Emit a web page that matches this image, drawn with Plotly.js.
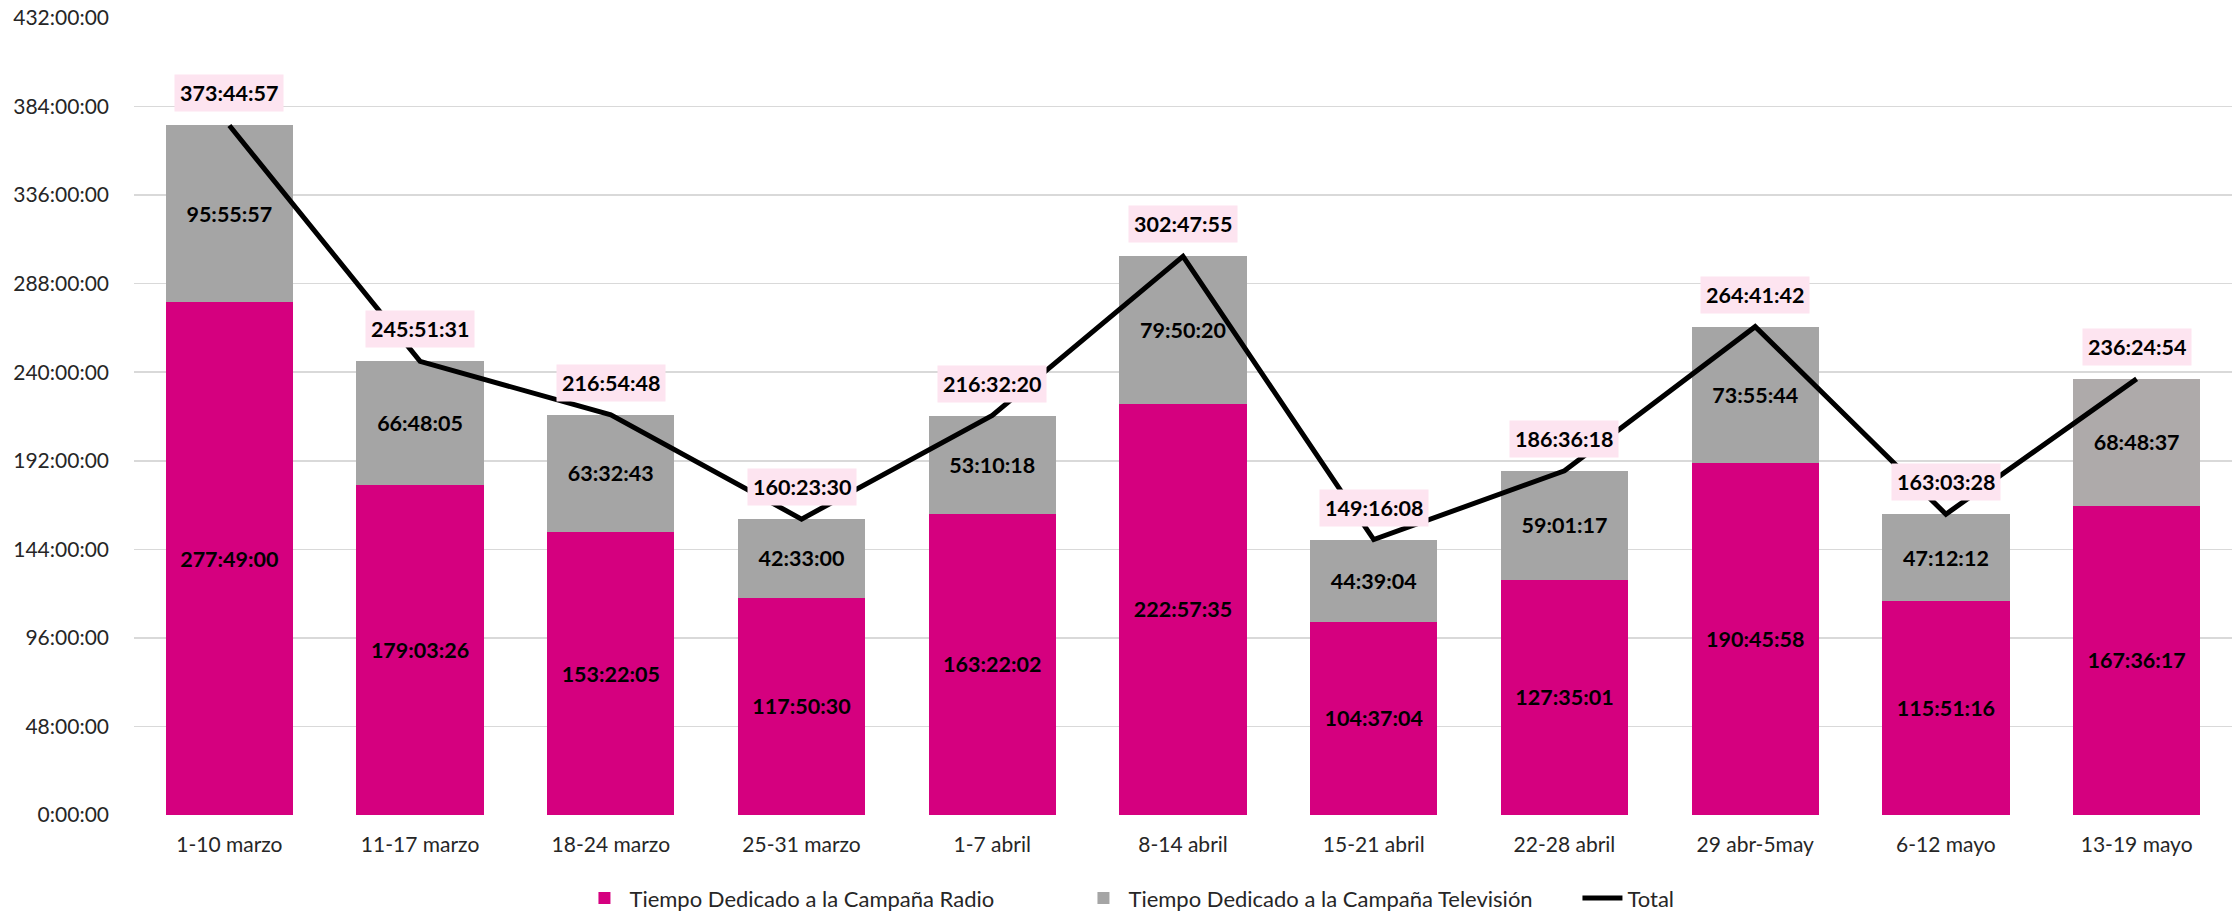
<!DOCTYPE html>
<html>
<head>
<meta charset="utf-8">
<script src="https://cdn.plot.ly/plotly-3.0.1.min.js"></script>
<style>html,body{margin:0;padding:0;background:#fff;}#chart{width:2239px;height:911px;}</style>
</head>
<body>
<div id="chart"></div>
<script>
const categories = ["1-10 marzo","11-17 marzo","18-24 marzo","25-31 marzo","1-7 abril","8-14 abril","15-21 abril","22-28 abril","29 abr-5may","6-12 mayo","13-19 mayo"];
const radio = ["277:49:00","179:03:26","153:22:05","117:50:30","163:22:02","222:57:35","104:37:04","127:35:01","190:45:58","115:51:16","167:36:17"];
const television = ["95:55:57","66:48:05","63:32:43","42:33:00","53:10:18","79:50:20","44:39:04","59:01:17","73:55:44","47:12:12","68:48:37"];
const total = ["373:44:57","245:51:31","216:54:48","160:23:30","216:32:20","302:47:55","149:16:08","186:36:18","264:41:42","163:03:28","236:24:54"];
const yTickValues = [0,48,96,144,192,240,288,336,384,432];
const yTickLabels = ["0:00:00","48:00:00","96:00:00","144:00:00","192:00:00","240:00:00","288:00:00","336:00:00","384:00:00","432:00:00"];

function toHours(s){const p=s.split(":").map(Number);return p[0]+p[1]/60+p[2]/3600;}

const FONT = "Lato, 'Liberation Sans', sans-serif";
const tvColors = television.map((v,i)=> i===television.length-1 ? "#AEAAAA" : "#A5A5A5");

const traces = [
  {type:"bar", name:"Tiempo Dedicado a la Campaña Radio", x:categories, y:radio.map(toHours),
   text:radio.map(s=>"<b>"+s+"</b>"), textposition:"inside", insidetextanchor:"middle", textangle:0,
   textfont:{family:FONT,size:21.5,color:"#000"}, marker:{color:"#D5007F"}, hoverinfo:"skip"},
  {type:"bar", name:"Tiempo Dedicado a la Campaña Televisión", x:categories, y:television.map(toHours),
   text:television.map(s=>"<b>"+s+"</b>"), textposition:"inside", insidetextanchor:"middle", textangle:0,
   textfont:{family:FONT,size:21.5,color:"#000"}, marker:{color:tvColors}, hoverinfo:"skip"},
  {type:"scatter", mode:"lines", name:"Total", x:categories, y:total.map(toHours),
   line:{color:"#000",width:5}, hoverinfo:"skip"}
];

const annotations = categories.map((c,i)=>({
  x:c, y:toHours(total[i]), xref:"x", yref:"y", yshift:32, showarrow:false,
  text:"<b>"+total[i]+"</b>", font:{family:FONT,size:21.5,color:"#000"},
  bgcolor:"#FDE4F0", borderpad:5
}));

const layout = {
  width:2239, height:911,
  margin:{l:134,r:7,t:18,b:96},
  paper_bgcolor:"#fff", plot_bgcolor:"#fff",
  barmode:"stack", bargap:0.333,
  font:{family:FONT,size:21,color:"#404040"},
  xaxis:{type:"category", showgrid:false, zeroline:false, showline:false, ticks:"",
    tickfont:{family:FONT,size:21,color:"#262626"}, ticklabelstandoff:15},
  yaxis:{range:[0,432], tickvals:yTickValues, ticktext:yTickLabels, showgrid:true,
    gridcolor:"#D9D9D9", gridwidth:1.5, zeroline:false, showline:false, ticks:"",
    tickfont:{family:FONT,size:21,color:"#262626"}, ticklabelstandoff:24},
  showlegend:true,
  legend:{orientation:"h", xref:"container", x:0.2588, xanchor:"left", yref:"container", y:0.014, yanchor:"middle",
    font:{family:FONT,size:22,color:"#262626"}, traceorder:"normal", itemwidth:40,
    entrywidth:444, entrywidthmode:"pixels"},
  annotations:annotations
};

Plotly.newPlot("chart", traces, layout, {displayModeBar:false, staticPlot:true});
</script>
</body>
</html>
